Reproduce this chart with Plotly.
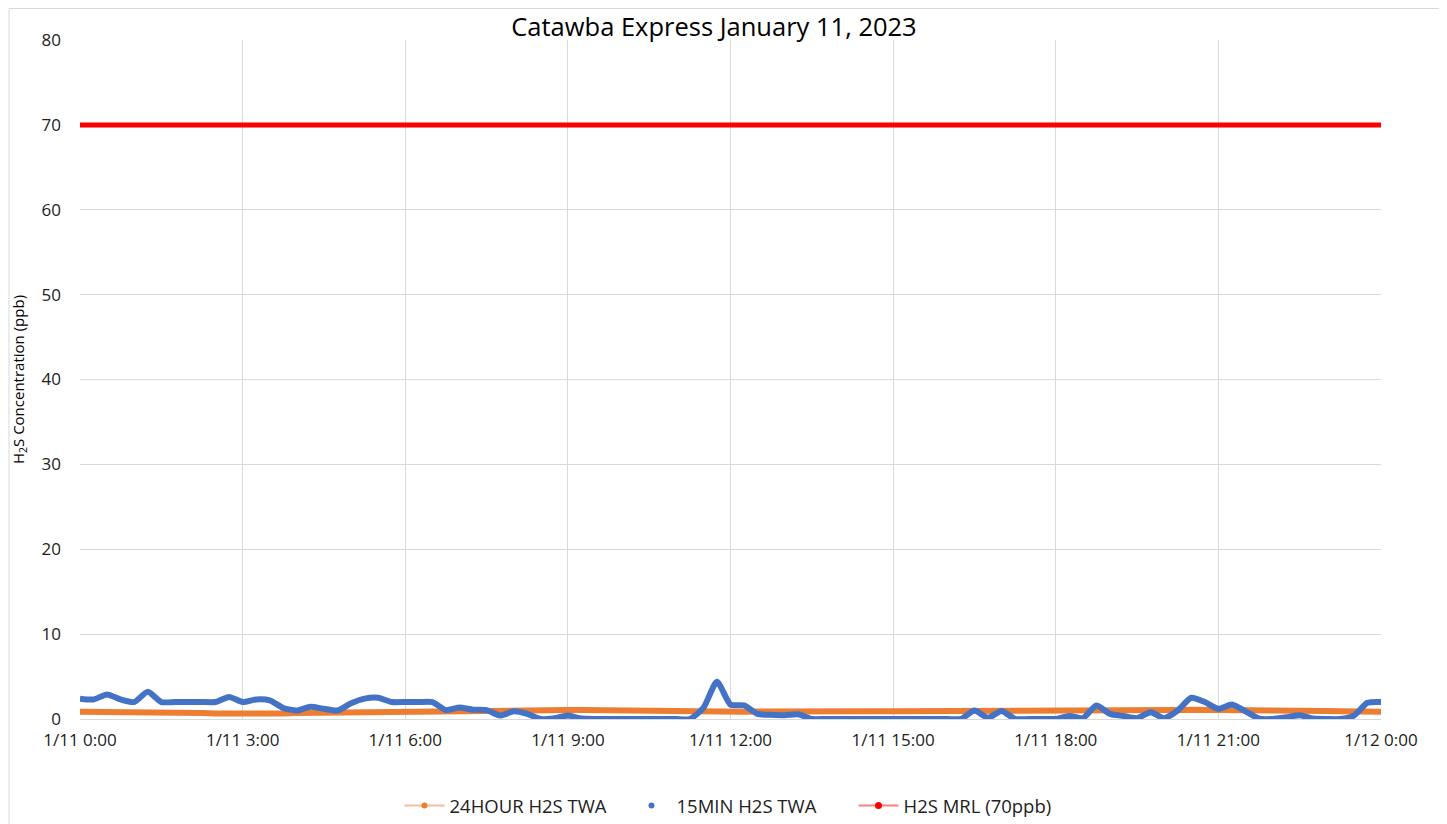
import pandas as pd
import plotly.graph_objects as go

# 15-minute timestamps, 1/11 0:00 .. 1/12 0:00
times = pd.date_range("2023-01-11 00:00", "2023-01-12 00:00", freq="15min")

twa_15min = [
    2.4, 2.3, 2.9, 2.3, 2.0, 3.2, 2.0, 2.0, 2.0, 2.0, 2.0, 2.6,
    2.0, 2.3, 2.2, 1.3, 1.0, 1.45, 1.2, 1.0, 1.85, 2.4, 2.5, 2.0,
    2.0, 2.0, 2.0, 1.05, 1.35, 1.1, 1.05, 0.4, 0.9, 0.6, 0.0, 0.1,
    0.4, 0.05, 0.0, 0.0, 0.0, 0.0, 0.0, 0.0, 0.0, 0.0, 1.3, 4.4,
    1.7, 1.6, 0.6, 0.5, 0.45, 0.55, 0.0, 0.0, 0.0, 0.0, 0.0, 0.0,
    0.0, 0.0, 0.0, 0.0, 0.0, 0.0, 1.0, 0.15, 0.95, 0.0, 0.0, 0.0,
    0.0, 0.35, 0.1, 1.6, 0.6, 0.35, 0.1, 0.8, 0.1, 1.0, 2.5, 2.0,
    1.2, 1.7, 0.9, 0.05, 0.0, 0.2, 0.45, 0.05, 0.0, 0.0, 0.4, 1.9,
    2.0,
]

twa_24hour = [
    0.85, 0.85, 0.85, 0.85, 0.85, 0.85, 0.85, 0.8,
    0.75, 0.7, 0.65, 0.62, 0.6, 0.6, 0.62, 0.65,
    0.7, 0.72, 0.75, 0.78, 0.8, 0.82, 0.85, 0.87,
    0.9, 0.95, 1.0, 1.0, 1.05, 1.05, 1.05, 1.08,
    1.1, 1.1, 1.1, 1.08, 1.05, 1.05, 1.02, 1.0,
    1.0, 0.98, 0.95, 0.92, 0.9, 0.85, 0.82, 0.8,
    0.82, 0.85, 0.88, 0.9, 0.9, 0.9, 0.9, 0.9,
    0.9, 0.9, 0.9, 0.9, 0.9, 0.9, 0.9, 0.9,
    0.9, 0.9, 0.92, 0.92, 0.95, 0.95, 0.95, 0.95,
    0.98, 0.98, 1.0, 1.0, 1.0, 1.02, 1.02, 1.05,
    1.05, 1.05, 1.08, 1.08, 1.1, 1.1, 1.1, 1.08,
    1.05, 1.02, 1.0, 0.98, 0.95, 0.92, 0.9, 0.88,
    0.86,
]

mrl = [70] * len(times)

tick_vals = pd.date_range("2023-01-11 00:00", "2023-01-12 00:00", freq="3h")
tick_text = ["1/11 0:00", "1/11 3:00", "1/11 6:00", "1/11 9:00", "1/11 12:00",
             "1/11 15:00", "1/11 18:00", "1/11 21:00", "1/12 0:00"]

ORANGE = "#ED7D31"
BLUE = "#4472C4"
RED = "#FF0000"
FONT = "Open Sans"

# page body has an 8px margin: figure sized to fit inside the 1447x824 window
W, H = 1439, 816
L, R, T, B = 72, 66, 32, 105
PW, PH = W - L - R, H - T - B

fig = go.Figure()
fig.add_trace(go.Scatter(
    x=times, y=twa_24hour, mode="lines", showlegend=False,
    line=dict(color=ORANGE, width=6),
))
fig.add_trace(go.Scatter(
    x=times, y=twa_15min, mode="lines", showlegend=False,
    line=dict(color=BLUE, width=6, shape="spline", smoothing=0.6),
))
fig.add_trace(go.Scatter(
    x=times, y=mrl, mode="lines", showlegend=False,
    line=dict(color=RED, width=5),
))
# legend entries
fig.add_trace(go.Scatter(
    x=[None], y=[None], mode="lines+markers", name="24HOUR H2S TWA",
    line=dict(color="rgba(237,125,49,0.5)", width=2), marker=dict(color=ORANGE, size=6),
))
fig.add_trace(go.Scatter(
    x=[None], y=[None], mode="markers", name="15MIN H2S TWA",
    marker=dict(color=BLUE, size=6),
))
fig.add_trace(go.Scatter(
    x=[None], y=[None], mode="lines+markers", name="H2S MRL (70ppb)",
    line=dict(color="rgba(255,0,0,0.5)", width=2), marker=dict(color=RED, size=7),
))

fig.update_layout(
    width=W, height=H,
    margin=dict(l=L, r=R, t=T, b=B),
    paper_bgcolor="white", plot_bgcolor="white",
    font=dict(family=FONT, color="#000000"),
    title=dict(text="Catawba Express January 11, 2023", x=(706 - L) / PW, xref="paper",
               xanchor="center", y=1 - 19 / H, yanchor="middle",
               font=dict(size=25.5, family=FONT, color="#000")),
    legend=dict(orientation="h", xref="container", yref="container",
                x=732 / W, xanchor="center", y=(H - 798) / H,
                yanchor="middle", font=dict(size=18.5, family=FONT, color="#222"),
                itemwidth=40, entrywidth=172, traceorder="normal"),
    shapes=[dict(type="rect", xref="paper", yref="paper",
                 x0=-(L - 1) / PW, x1=(PW + R - 5) / PW, y0=-(B + 5) / PH, y1=(PH + T - 0.5) / PH,
                 line=dict(color="#d9d9d9", width=1))],
)
fig.update_xaxes(
    range=[times[0], times[-1]], tickvals=tick_vals, ticktext=tick_text,
    showgrid=True, gridcolor="#d9d9d9", gridwidth=1, automargin=False,
    showline=True, linecolor="#d9d9d9", ticks="", zeroline=False,
    ticklabelstandoff=6,
    tickfont=dict(size=17, family=FONT, color="#222"),
)
fig.update_yaxes(
    range=[0, 80], dtick=10, showgrid=True, gridcolor="#d9d9d9", gridwidth=1,
    zeroline=False, showline=False, ticks="", ticklabelstandoff=18, automargin=False,
    tickfont=dict(size=17, family=FONT, color="#222"),
    title=dict(text="H<sub>2</sub>S Concentration (ppb)",
               font=dict(size=15, family=FONT, color="#000"), standoff=14),
)

fig.write_html("out.html")
